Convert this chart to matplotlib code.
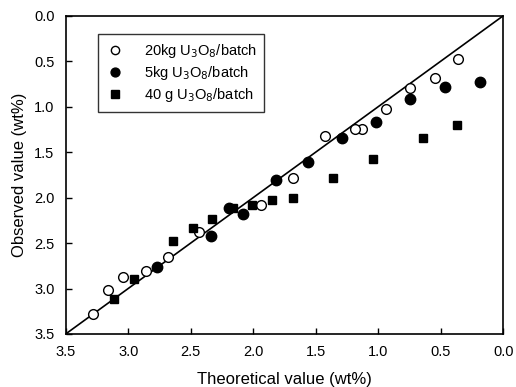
import matplotlib
matplotlib.use("Agg")
import matplotlib.pyplot as plt

plt.rcParams['font.family'] = ['Liberation Sans', 'DejaVu Sans']

# 20kg U3O8/batch (open circles)
x20 = [0.36, 0.55, 0.75, 0.94, 1.13, 1.19, 1.43, 1.68, 1.94, 2.43, 2.68, 2.86, 3.04, 3.16, 3.28]
y20 = [0.48, 0.68, 0.79, 1.03, 1.25, 1.25, 1.32, 1.79, 2.08, 2.38, 2.65, 2.81, 2.87, 3.02, 3.28]
# 5kg U3O8/batch (filled circles)
x5 = [0.19, 0.47, 0.75, 1.02, 1.29, 1.56, 1.82, 2.08, 2.19, 2.34, 2.77]
y5 = [0.73, 0.78, 0.92, 1.17, 1.35, 1.61, 1.81, 2.18, 2.12, 2.42, 2.76]
# 40 g U3O8/batch (filled squares)
x40 = [0.37, 0.64, 1.04, 1.36, 1.68, 1.85, 2.01, 2.16, 2.33, 2.48, 2.64, 2.95, 3.11]
y40 = [1.20, 1.35, 1.58, 1.79, 2.00, 2.03, 2.08, 2.12, 2.24, 2.34, 2.48, 2.89, 3.11]

ticks = [3.5, 3.0, 2.5, 2.0, 1.5, 1.0, 0.5, 0.0]
line_ends = [3.5, 0.0]

fig = plt.figure(figsize=(5.16, 3.87), dpi=100)
ax = fig.add_axes([0.1273, 0.137, 0.8481, 0.8224])

ax.plot(line_ends, line_ends, color='black', lw=1.2, zorder=1)
ax.plot(x20, y20, 'o', ms=7, mfc='white', mec='black', mew=1.0, ls='none',
        label='20kg U$_3$O$_8$/batch', zorder=3)
ax.plot(x5, y5, 'o', ms=7.5, mfc='black', mec='black', ls='none',
        label='5kg U$_3$O$_8$/batch', zorder=3)
ax.plot(x40, y40, 's', ms=6, mfc='black', mec='black', ls='none',
        label='40 g U$_3$O$_8$/batch', zorder=3)

ax.set_xlim(3.5, 0.0)
ax.set_ylim(3.5, 0.0)
ax.set_xticks(ticks)
ax.set_yticks(ticks)
ax.set_xticklabels([f'{t:.1f}' for t in ticks])
ax.set_yticklabels([f'{t:.1f}' for t in ticks])
ax.tick_params(direction='in', length=4, width=1, labelsize=10.5, pad=8)
for s in ax.spines.values():
    s.set_linewidth(1.2)

ax.set_xlabel('Theoretical value (wt%)', fontsize=12, labelpad=9)
ax.set_ylabel('Observed value (wt%)', fontsize=12, labelpad=5)

leg = ax.legend(loc='upper left', bbox_to_anchor=(0.073, 0.943), fontsize=10.5,
                frameon=True, fancybox=False, edgecolor='black', handlelength=1.3,
                handletextpad=1.3, borderpad=0.55, labelspacing=0.28, borderaxespad=0,
                markerscale=0.85)
leg.get_frame().set_linewidth(1.0)

fig.savefig('out.png', dpi=100)
